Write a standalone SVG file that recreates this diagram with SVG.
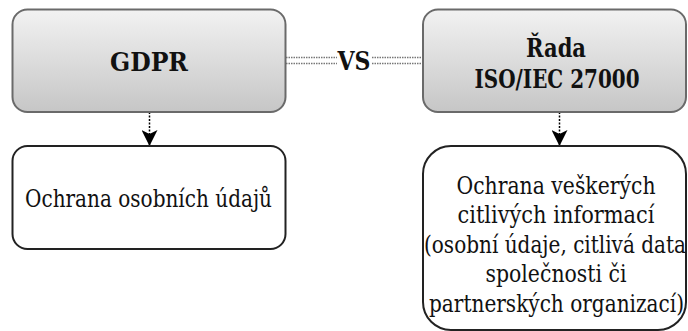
<svg xmlns="http://www.w3.org/2000/svg" width="688" height="331" viewBox="0 0 688 331">
<defs>
<linearGradient id="g" x1="0" y1="0" x2="0" y2="1">
<stop offset="0" stop-color="#f2f2f2"/>
<stop offset="1" stop-color="#c6c6c6"/>
</linearGradient>
<marker id="ah" viewBox="0 0 16 16" refX="15" refY="8" markerWidth="16" markerHeight="16" markerUnits="userSpaceOnUse" orient="auto">
<path d="M0,0 L16,8 L0,16 L4,8 Z" fill="#000"/>
</marker>
<style>
.top{fill:url(#g);stroke:#6a6a6a;stroke-width:2}
.bot{fill:#fff;stroke:#222;stroke-width:2}
text{font-family:'DejaVu Serif',serif;fill:#111;text-anchor:middle}
.tb{font-weight:bold;font-size:26px}
.tr{font-size:25px}
.dot{stroke:#777;stroke-width:1.3;stroke-dasharray:1.5 1;fill:none}
.arr{stroke:#000;stroke-width:1.5;stroke-dasharray:2 1.5;fill:none}
</style>
</defs>
<g id="connectors">
<path class="dot" d="M286,57.5 H337 M286,63.5 H337 M372,57.5 H423 M372,63.5 H423"/>
<text class="tb" x="354" y="69.5" font-size="24" textLength="33" lengthAdjust="spacingAndGlyphs">VS</text>
<path class="arr" d="M149.5,112 V145" marker-end="url(#ah)"/>
<path class="arr" d="M559.5,112 V145" marker-end="url(#ah)"/>
</g>
<g id="gdpr">
<rect class="top" x="12.5" y="9.5" width="273" height="102.5" rx="15"/>
<text class="tb" x="149" y="70.5" textLength="78" lengthAdjust="spacingAndGlyphs">GDPR</text>
</g>
<g id="iso">
<rect class="top" x="423" y="9.5" width="263" height="102.5" rx="15"/>
<text class="tb" x="556" y="56.5" textLength="60" lengthAdjust="spacingAndGlyphs">Řada</text>
<text class="tb" x="557" y="88" textLength="165" lengthAdjust="spacingAndGlyphs">ISO/IEC 27000</text>
</g>
<g id="gdpr-scope">
<rect class="bot" x="12.5" y="146" width="273" height="103" rx="15"/>
<text class="tr" x="148.5" y="206.5" textLength="247" lengthAdjust="spacingAndGlyphs">Ochrana osobních údajů</text>
</g>
<g id="iso-scope">
<rect class="bot" x="423" y="146" width="263" height="184" rx="28"/>
<text class="tr" x="556" y="193.5" textLength="199" lengthAdjust="spacingAndGlyphs">Ochrana veškerých</text>
<text class="tr" x="556" y="223" textLength="197" lengthAdjust="spacingAndGlyphs">citlivých informací</text>
<text class="tr" x="555" y="252.5" textLength="262" lengthAdjust="spacingAndGlyphs">(osobní údaje, citlivá data</text>
<text class="tr" x="556" y="282" textLength="141" lengthAdjust="spacingAndGlyphs">společnosti či</text>
<text class="tr" x="556.5" y="311.5" textLength="255" lengthAdjust="spacingAndGlyphs">partnerských organizací)</text>
</g>
</svg>
